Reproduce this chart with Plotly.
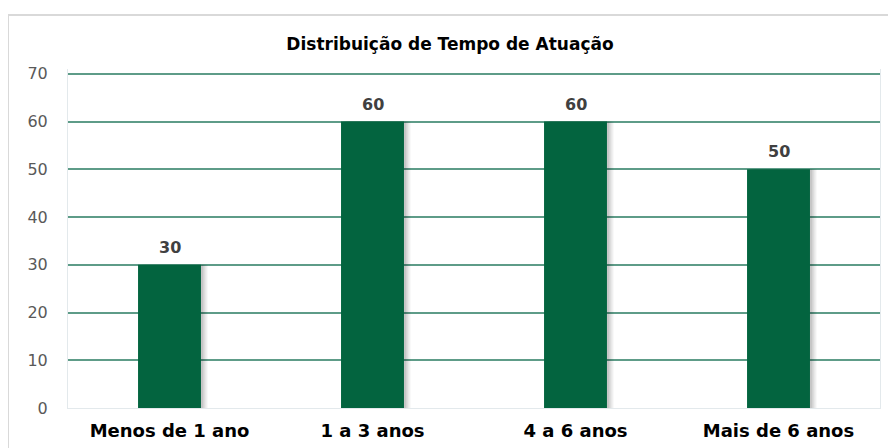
import plotly.graph_objects as go

# ── data ──────────────────────────────────────────────────────────────
categories = ["Menos de 1 ano", "1 a 3 anos", "4 a 6 anos", "Mais de 6 anos"]
values = [30, 60, 60, 50]
y_ticks = [0, 10, 20, 30, 40, 50, 60, 70]

_FONT = "'DejaVu Sans', Arial, sans-serif"
BAR = "#03643F"
GRID = "#5E9C88"
BAR_W = 0.31
Y_TOP = 71          # a little headroom so the 70 gridline is drawn

# the page body adds an 8px margin, so margins below are shifted by 8px
W, H, PAD = 896, 448, 8

fig = go.Figure()

# soft shadow on the right edge of each bar
for off, alpha in [(0.032, 0.06), (0.022, 0.08), (0.012, 0.10)]:
    fig.add_trace(go.Bar(
        x=categories, y=values,
        width=BAR_W, offset=-BAR_W / 2 + off,
        marker=dict(color=f"rgba(0,0,0,{alpha})", line=dict(width=0)),
        hoverinfo="skip", showlegend=False,
    ))

fig.add_trace(go.Bar(
    x=categories, y=values,
    width=BAR_W, offset=-BAR_W / 2,
    marker=dict(color=BAR, line=dict(width=0)),
    showlegend=False,
))

# value labels above bars
labels = [dict(
    x=c, y=v, text=f"<b>{v}</b>", showarrow=False,
    yanchor="bottom", yshift=6,
    font=dict(family=_FONT, size=16, color="#404040"),
) for c, v in zip(categories, values)]

top_px = round(408 - Y_TOP * 334 / 70)
l, r, t, b = 68 - PAD, W - (880 - PAD), top_px - PAD, H - (408 - PAD)
pw, ph = W - l - r, H - t - b

fig.update_layout(
    width=W, height=H,
    barmode="overlay",
    paper_bgcolor="#FFFFFF",
    plot_bgcolor="#FFFFFF",
    font=dict(family=_FONT, color="#595959"),
    margin=dict(l=l, r=r, t=t, b=b, autoexpand=False),
    title=dict(
        text="<b>Distribuição de Tempo de Atuação</b>",
        x=(450 - PAD) / W, xanchor="center",
        y=1 - (44 - PAD) / H, yanchor="middle",
        font=dict(family=_FONT, size=17, color="#000000"),
    ),
    xaxis=dict(
        showgrid=False, zeroline=False,
        showline=True, linecolor="#E3E9EC", linewidth=1,
        ticks="", ticklabelstandoff=6,
        tickfont=dict(family=_FONT, size=18, color="#000000", weight="bold"),
    ),
    yaxis=dict(
        range=[0, Y_TOP], tickvals=y_ticks,
        showgrid=True, gridcolor=GRID, gridwidth=1.5,
        zeroline=False,
        showline=True, linecolor="#E3E9EC", linewidth=1, mirror=True,
        ticks="", ticklabelstandoff=16,
        tickfont=dict(family=_FONT, size=16, color="#595959"),
    ),
    annotations=labels,
    shapes=[dict(
        type="rect", xref="paper", yref="paper",
        x0=-l / pw, x1=1.05, y0=-0.3, y1=(ph + t - (15 - PAD)) / ph,
        line=dict(color="#D9D9D9", width=2), layer="below",
    )],
)

fig.write_html("out.html")
